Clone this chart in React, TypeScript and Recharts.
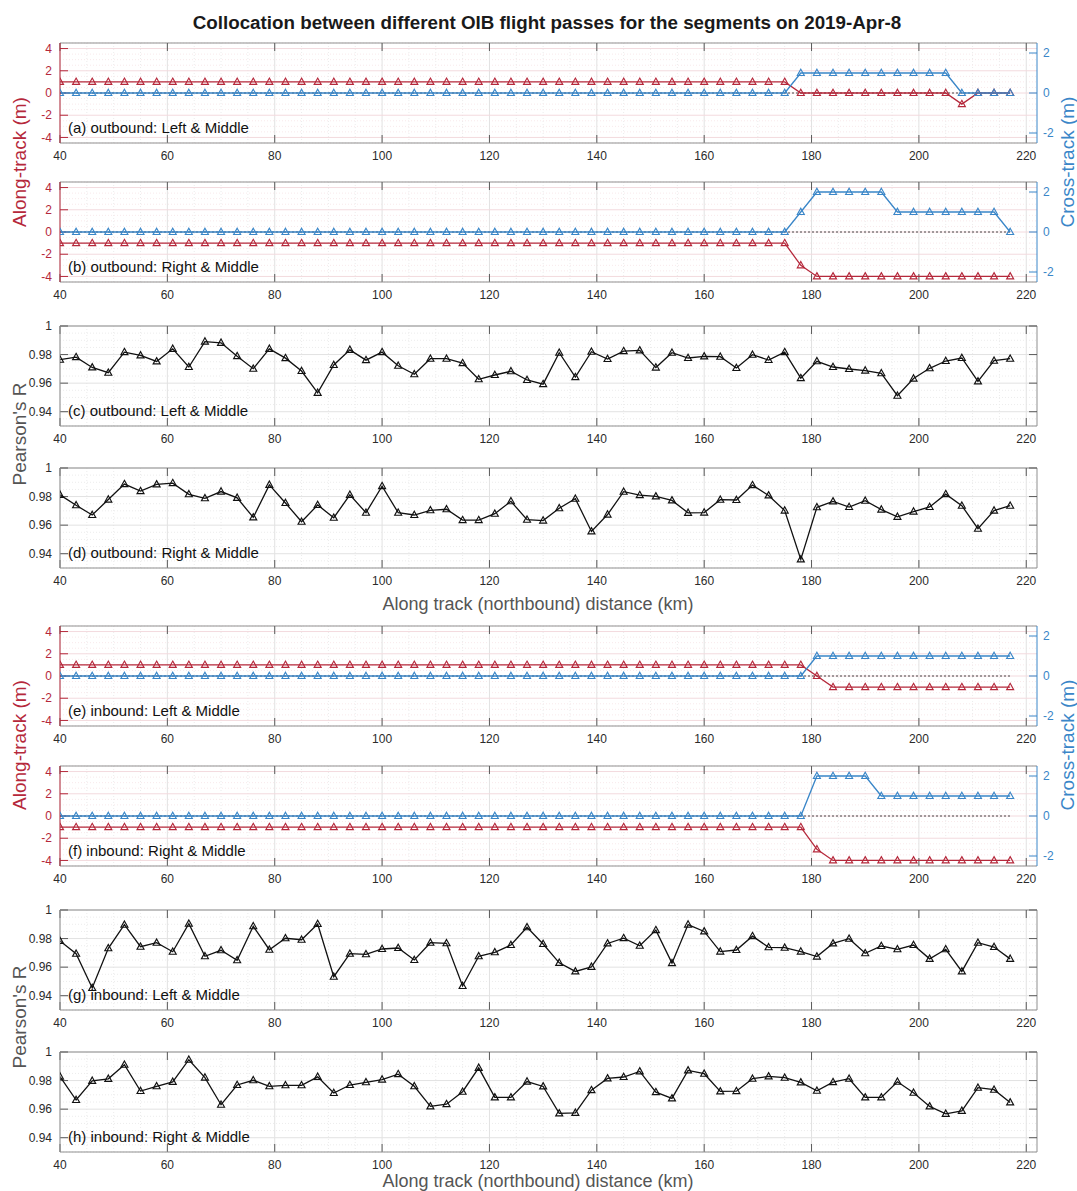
import React from 'react';
import { LineChart, Line, XAxis, YAxis, ReferenceLine } from 'recharts';

// ---------------- data ----------------
const distanceKm = [
  40, 43, 46, 49, 52, 55, 58, 61, 64, 67, 70, 73, 76, 79, 82, 85, 88, 91, 94, 97,
  100, 103, 106, 109, 112, 115, 118, 121, 124, 127, 130, 133, 136, 139, 142, 145, 148, 151, 154, 157,
  160, 163, 166, 169, 172, 175, 178, 181, 184, 187, 190, 193, 196, 199, 202, 205, 208, 211, 214, 217,
];
const xTickValues = [40, 60, 80, 100, 120, 140, 160, 180, 200, 220];
const alongTicks = [-4, -2, 0, 2, 4];
const crossTicks = [-2, 0, 2];
const pearsonTicks = [0.94, 0.96, 0.98, 1];

// (a) outbound Left & Middle
const outLeftAlong = [
  1, 1, 1, 1, 1, 1, 1, 1, 1, 1, 1, 1, 1, 1, 1, 1, 1, 1, 1, 1,
  1, 1, 1, 1, 1, 1, 1, 1, 1, 1, 1, 1, 1, 1, 1, 1, 1, 1, 1, 1,
  1, 1, 1, 1, 1, 1, 0, 0, 0, 0, 0, 0, 0, 0, 0, 0, -1, 0, 0, 0,
];
const outLeftCross = [
  0, 0, 0, 0, 0, 0, 0, 0, 0, 0, 0, 0, 0, 0, 0, 0, 0, 0, 0, 0,
  0, 0, 0, 0, 0, 0, 0, 0, 0, 0, 0, 0, 0, 0, 0, 0, 0, 0, 0, 0,
  0, 0, 0, 0, 0, 0, 1, 1, 1, 1, 1, 1, 1, 1, 1, 1, 0, 0, 0, 0,
];
// (b) outbound Right & Middle
const outRightAlong = [
  -1, -1, -1, -1, -1, -1, -1, -1, -1, -1, -1, -1, -1, -1, -1, -1, -1, -1, -1, -1,
  -1, -1, -1, -1, -1, -1, -1, -1, -1, -1, -1, -1, -1, -1, -1, -1, -1, -1, -1, -1,
  -1, -1, -1, -1, -1, -1, -3, -4, -4, -4, -4, -4, -4, -4, -4, -4, -4, -4, -4, -4,
];
const outRightCross = [
  0, 0, 0, 0, 0, 0, 0, 0, 0, 0, 0, 0, 0, 0, 0, 0, 0, 0, 0, 0,
  0, 0, 0, 0, 0, 0, 0, 0, 0, 0, 0, 0, 0, 0, 0, 0, 0, 0, 0, 0,
  0, 0, 0, 0, 0, 0, 1, 2, 2, 2, 2, 2, 1, 1, 1, 1, 1, 1, 1, 0,
];
// (c) outbound Left & Middle, Pearson's R
const outLeftR = [
  0.9764, 0.9782, 0.9710, 0.9673, 0.9817, 0.9794, 0.9752, 0.9840, 0.9713, 0.9891,
  0.9882, 0.9789, 0.9701, 0.9840, 0.9775, 0.9685, 0.9532, 0.9727, 0.9833, 0.9761,
  0.9817, 0.9722, 0.9662, 0.9771, 0.9771, 0.9740, 0.9627, 0.9657, 0.9683, 0.9622,
  0.9593, 0.9813, 0.9642, 0.9820, 0.9769, 0.9824, 0.9829, 0.9709, 0.9813, 0.9776,
  0.9787, 0.9785, 0.9706, 0.9799, 0.9762, 0.9817, 0.9635, 0.9753, 0.9713, 0.9699,
  0.9688, 0.9669, 0.9512, 0.9632, 0.9704, 0.9755, 0.9776, 0.9612, 0.9757, 0.9771,
];
// (d) outbound Right & Middle, Pearson's R
const outRightR = [
  0.9812, 0.9739, 0.9671, 0.9779, 0.9887, 0.9838, 0.9885, 0.9894, 0.9816, 0.9788,
  0.9835, 0.9791, 0.9654, 0.9882, 0.9755, 0.9624, 0.9741, 0.9652, 0.9812, 0.9687,
  0.9873, 0.9687, 0.9671, 0.9704, 0.9711, 0.9635, 0.9635, 0.9680, 0.9767, 0.9638,
  0.9632, 0.9718, 0.9785, 0.9556, 0.9674, 0.9834, 0.9810, 0.9801, 0.9773, 0.9686,
  0.9688, 0.9778, 0.9776, 0.9880, 0.9808, 0.9702, 0.9360, 0.9725, 0.9766, 0.9727,
  0.9771, 0.9709, 0.9658, 0.9695, 0.9727, 0.9817, 0.9736, 0.9575, 0.9702, 0.9736,
];
// (e) inbound Left & Middle
const inLeftAlong = [
  1, 1, 1, 1, 1, 1, 1, 1, 1, 1, 1, 1, 1, 1, 1, 1, 1, 1, 1, 1,
  1, 1, 1, 1, 1, 1, 1, 1, 1, 1, 1, 1, 1, 1, 1, 1, 1, 1, 1, 1,
  1, 1, 1, 1, 1, 1, 1, 0, -1, -1, -1, -1, -1, -1, -1, -1, -1, -1, -1, -1,
];
const inLeftCross = [
  0, 0, 0, 0, 0, 0, 0, 0, 0, 0, 0, 0, 0, 0, 0, 0, 0, 0, 0, 0,
  0, 0, 0, 0, 0, 0, 0, 0, 0, 0, 0, 0, 0, 0, 0, 0, 0, 0, 0, 0,
  0, 0, 0, 0, 0, 0, 0, 1, 1, 1, 1, 1, 1, 1, 1, 1, 1, 1, 1, 1,
];
// (f) inbound Right & Middle
const inRightAlong = [
  -1, -1, -1, -1, -1, -1, -1, -1, -1, -1, -1, -1, -1, -1, -1, -1, -1, -1, -1, -1,
  -1, -1, -1, -1, -1, -1, -1, -1, -1, -1, -1, -1, -1, -1, -1, -1, -1, -1, -1, -1,
  -1, -1, -1, -1, -1, -1, -1, -3, -4, -4, -4, -4, -4, -4, -4, -4, -4, -4, -4, -4,
];
const inRightCross = [
  0, 0, 0, 0, 0, 0, 0, 0, 0, 0, 0, 0, 0, 0, 0, 0, 0, 0, 0, 0,
  0, 0, 0, 0, 0, 0, 0, 0, 0, 0, 0, 0, 0, 0, 0, 0, 0, 0, 0, 0,
  0, 0, 0, 0, 0, 0, 0, 2, 2, 2, 2, 1, 1, 1, 1, 1, 1, 1, 1, 1,
];
// (g) inbound Left & Middle, Pearson's R
const inLeftR = [
  0.9783, 0.9694, 0.9454, 0.9732, 0.9897, 0.9743, 0.9771, 0.9708, 0.9904, 0.9676,
  0.9718, 0.9648, 0.9886, 0.9722, 0.9802, 0.9792, 0.9902, 0.9533, 0.9694, 0.9690,
  0.9727, 0.9734, 0.9650, 0.9771, 0.9767, 0.9468, 0.9676, 0.9704, 0.9755, 0.9879,
  0.9762, 0.9630, 0.9570, 0.9602, 0.9766, 0.9803, 0.9750, 0.9859, 0.9628, 0.9898,
  0.9850, 0.9709, 0.9720, 0.9817, 0.9739, 0.9736, 0.9709, 0.9674, 0.9766, 0.9799,
  0.9697, 0.9748, 0.9725, 0.9755, 0.9658, 0.9725, 0.9570, 0.9771, 0.9741, 0.9658,
];
// (h) inbound Right & Middle, Pearson's R
const inRightR = [
  0.9828, 0.9664, 0.9798, 0.9812, 0.9911, 0.9727, 0.9760, 0.9791, 0.9946, 0.9821,
  0.9631, 0.9769, 0.9802, 0.9760, 0.9767, 0.9767, 0.9826, 0.9713, 0.9769, 0.9788,
  0.9807, 0.9845, 0.9760, 0.9619, 0.9635, 0.9722, 0.9889, 0.9682, 0.9682, 0.9793,
  0.9759, 0.9570, 0.9574, 0.9733, 0.9815, 0.9825, 0.9864, 0.9719, 0.9675, 0.9871,
  0.9848, 0.9724, 0.9726, 0.9813, 0.9829, 0.9820, 0.9787, 0.9729, 0.9789, 0.9813,
  0.9682, 0.9682, 0.9792, 0.9715, 0.9619, 0.9567, 0.9588, 0.9750, 0.9736, 0.9647,
];

// ---------------- style / layout ----------------
const FONT = '"Liberation Sans", Arial, Helvetica, sans-serif';
const RED = '#b5283b';
const BLUE = '#3a86c8';
const BOX = '#8f8f8f';
const TICKMARK = '#5a5a5a';
const TXT = '#2b2b2b';
const LABEL = '#555555';
const W = 1077;
const H = 1191;
const PLOT_L = 60;
const PLOT_R = 1037;
const PANEL_H = 100;
const MT = 6;
const XH = 26;
const X_DOMAIN: [number, number] = [40, 222];
const ALONG_DOMAIN: [number, number] = [-4.5, 4.5];
const CROSS_DOMAIN: [number, number] = [-2.5, 2.5];
const R_DOMAIN: [number, number] = [0.93, 1];

function steps(a: number, b: number, s: number) {
  const out: number[] = [];
  for (let v = a; v <= b + 1e-9; v += s) out.push(+v.toFixed(4));
  return out;
}
const xMinor = steps(40, 222, 5).filter((v) => v % 20 !== 0);
const alongMinor = steps(-4.5, 4.5, 0.5).filter((v) => Math.abs(v % 2) > 1e-6);
const rMinor = steps(0.93, 1, 0.005).filter((v) => Math.abs(v * 50 - Math.round(v * 50)) > 1e-6);

const triDot = (color: string) => (p: any) => {
  const { cx, cy, index } = p;
  if (cx == null || cy == null) return <g key={`t${index}`} />;
  return (
    <path
      key={`t${index}`}
      d={`M${cx},${cy - 3.8}L${cx + 3.5},${cy + 2.5}L${cx - 3.5},${cy + 2.5}Z`}
      fill="none"
      stroke={color}
      strokeWidth={1.15}
    />
  );
};

type PanelProps = {
  top: number;
  kind: 'yy' | 'r';
  along?: number[];
  cross?: number[];
  r?: number[];
};

function Panel({ top, kind, along, cross, r }: PanelProps) {
  const yy = kind === 'yy';
  const data = distanceKm.map((x, i) =>
    yy ? { x, along: along![i], cross: cross![i] } : { x, r: r![i] }
  );
  const yDom = yy ? ALONG_DOMAIN : R_DOMAIN;
  const yMaj = yy ? alongTicks : pearsonTicks;
  const yMin = yy ? alongMinor : rMinor;
  const hMaj = yy ? '#f3dade' : '#e2e2e2';
  const hMin = yy ? '#f8e9eb' : '#ececec';
  const vMaj = '#e2e2e2';
  const vMin = '#ececec';
  const leftColor = yy ? RED : BOX;
  const tlx = (8 / (PLOT_R - PLOT_L)) * (X_DOMAIN[1] - X_DOMAIN[0]);
  const tly = (8 / PANEL_H) * (yDom[1] - yDom[0]);
  const tickStyle = { fontSize: 12, fontFamily: FONT };

  return (
    <div style={{ position: 'absolute', left: 0, top: top - MT }}>
      <LineChart
        width={W}
        height={MT + PANEL_H + XH}
        data={data}
        margin={{ top: MT, right: yy ? 0 : W - PLOT_R, bottom: 0, left: 0 }}
      >
        <XAxis
          dataKey="x"
          type="number"
          domain={X_DOMAIN}
          ticks={xTickValues}
          interval={0}
          allowDataOverflow
          height={XH}
          tickLine={false}
          axisLine={{ stroke: BOX }}
          tick={{ ...tickStyle, fill: TXT }}
        />
        <YAxis
          yAxisId="L"
          orientation="left"
          width={PLOT_L}
          domain={yDom}
          ticks={yMaj}
          interval={0}
          allowDataOverflow
          tickLine={false}
          axisLine={{ stroke: leftColor }}
          tick={{ ...tickStyle, fill: yy ? RED : TXT }}
          tickFormatter={(v: number) => (yy ? String(v) : v === 1 ? '1' : v.toFixed(2))}
        />
        {yy && (
          <YAxis
            yAxisId="R"
            orientation="right"
            width={W - PLOT_R}
            domain={CROSS_DOMAIN}
            ticks={crossTicks}
            interval={0}
            allowDataOverflow
            tickLine={false}
            tickSize={4}
            axisLine={{ stroke: BLUE }}
            tick={{ ...tickStyle, fill: BLUE }}
          />
        )}
        {xMinor.map((v) => (
          <ReferenceLine key={`vx${v}`} x={v} yAxisId="L" stroke={vMin} strokeDasharray="1 2" />
        ))}
        {yMin.map((v) => (
          <ReferenceLine key={`hy${v}`} y={v} yAxisId="L" stroke={hMin} strokeDasharray="1 2" />
        ))}
        {xTickValues.map((v) => (
          <ReferenceLine key={`VX${v}`} x={v} yAxisId="L" stroke={vMaj} />
        ))}
        {yMaj.map((v) => (
          <ReferenceLine key={`HY${v}`} y={v} yAxisId="L" stroke={hMaj} />
        ))}
        <ReferenceLine y={yDom[1]} yAxisId="L" stroke={BOX} />
        {!yy && <ReferenceLine x={X_DOMAIN[1]} yAxisId="L" stroke={BOX} />}
        {xTickValues.map((v) => (
          <ReferenceLine
            key={`tb${v}`}
            yAxisId="L"
            stroke={TICKMARK}
            segment={[{ x: v, y: yDom[0] }, { x: v, y: yDom[0] + tly }]}
          />
        ))}
        {xTickValues.map((v) => (
          <ReferenceLine
            key={`tt${v}`}
            yAxisId="L"
            stroke={TICKMARK}
            segment={[{ x: v, y: yDom[1] }, { x: v, y: yDom[1] - tly }]}
          />
        ))}
        {yMaj.map((v) => (
          <ReferenceLine
            key={`tl${v}`}
            yAxisId="L"
            stroke={yy ? RED : TICKMARK}
            segment={[{ x: X_DOMAIN[0], y: v }, { x: X_DOMAIN[0] + tlx, y: v }]}
          />
        ))}
        {!yy &&
          yMaj.map((v) => (
            <ReferenceLine
              key={`tr${v}`}
              yAxisId="L"
              stroke={TICKMARK}
              segment={[{ x: X_DOMAIN[1], y: v }, { x: X_DOMAIN[1] - tlx, y: v }]}
            />
          ))}
        {yy &&
          crossTicks.map((v) => (
            <ReferenceLine
              key={`trc${v}`}
              yAxisId="R"
              stroke={BLUE}
              segment={[{ x: X_DOMAIN[1], y: v }, { x: X_DOMAIN[1] - tlx, y: v }]}
            />
          ))}
        {yy && (
          <ReferenceLine
            yAxisId="L"
            stroke="#333"
            strokeWidth={0.9}
            strokeDasharray="2 2"
            segment={[{ x: 40, y: 0 }, { x: 217, y: 0 }]}
          />
        )}
        {yy ? (
          <Line
            yAxisId="L"
            dataKey="along"
            stroke={RED}
            strokeWidth={1.3}
            dot={triDot(RED)}
            activeDot={false}
            isAnimationActive={false}
          />
        ) : (
          <Line
            yAxisId="L"
            dataKey="r"
            stroke="#111"
            strokeWidth={1.3}
            dot={triDot('#111')}
            activeDot={false}
            isAnimationActive={false}
          />
        )}
        {yy && (
          <Line
            yAxisId="R"
            dataKey="cross"
            stroke={BLUE}
            strokeWidth={1.3}
            dot={triDot(BLUE)}
            activeDot={false}
            isAnimationActive={false}
          />
        )}
      </LineChart>
    </div>
  );
}

const panels: { id: string; top: number; kind: 'yy' | 'r'; label: string; along?: number[]; cross?: number[]; r?: number[] }[] = [
  { id: 'a', top: 43, kind: 'yy', label: '(a) outbound: Left & Middle', along: outLeftAlong, cross: outLeftCross },
  { id: 'b', top: 182, kind: 'yy', label: '(b) outbound: Right & Middle', along: outRightAlong, cross: outRightCross },
  { id: 'c', top: 326, kind: 'r', label: '(c) outbound: Left & Middle', r: outLeftR },
  { id: 'd', top: 468, kind: 'r', label: '(d) outbound: Right & Middle', r: outRightR },
  { id: 'e', top: 626, kind: 'yy', label: '(e) inbound: Left & Middle', along: inLeftAlong, cross: inLeftCross },
  { id: 'f', top: 766, kind: 'yy', label: '(f) inbound: Right & Middle', along: inRightAlong, cross: inRightCross },
  { id: 'g', top: 910, kind: 'r', label: '(g) inbound: Left & Middle', r: inLeftR },
  { id: 'h', top: 1052, kind: 'r', label: '(h) inbound: Right & Middle', r: inRightR },
];

export default function App() {
  return (
    <div
      style={{
        position: 'absolute',
        left: 0,
        top: 0,
        width: W,
        height: H,
        background: '#fff',
        fontFamily: FONT,
        overflow: 'hidden',
      }}
    >
      {panels.map((p) => (
        <Panel key={p.id} top={p.top} kind={p.kind} along={p.along} cross={p.cross} r={p.r} />
      ))}
      <svg
        width={W}
        height={H}
        style={{ position: 'absolute', left: 0, top: 0, pointerEvents: 'none' }}
        fontFamily={FONT}
      >
        <text x={547} y={29} textAnchor="middle" fontSize={18.8} fontWeight="bold" fill="#1a1a1a">
          Collocation between different OIB flight passes for the segments on 2019-Apr-8
        </text>
        {panels.map((p) => (
          <text key={`lab${p.id}`} x={68} y={p.top + PANEL_H - 10} fontSize={15} fill="#111">
            {p.label}
          </text>
        ))}
        <text x={26} y={162} transform="rotate(-90 26 162)" textAnchor="middle" fontSize={19} fill={RED}>
          Along-track (m)
        </text>
        <text x={1074} y={162} transform="rotate(-90 1074 162)" textAnchor="middle" fontSize={19} fill={BLUE}>
          Cross-track (m)
        </text>
        <text x={26} y={745} transform="rotate(-90 26 745)" textAnchor="middle" fontSize={19} fill={RED}>
          Along-track (m)
        </text>
        <text x={1074} y={745} transform="rotate(-90 1074 745)" textAnchor="middle" fontSize={19} fill={BLUE}>
          Cross-track (m)
        </text>
        <text x={26} y={434} transform="rotate(-90 26 434)" textAnchor="middle" fontSize={19} fill={LABEL}>
          Pearson's R
        </text>
        <text x={26} y={1017} transform="rotate(-90 26 1017)" textAnchor="middle" fontSize={19} fill={LABEL}>
          Pearson's R
        </text>
        <text x={538} y={610} textAnchor="middle" fontSize={18} fill={LABEL}>
          Along track (northbound) distance (km)
        </text>
        <text x={538} y={1187} textAnchor="middle" fontSize={18} fill={LABEL}>
          Along track (northbound) distance (km)
        </text>
      </svg>
    </div>
  );
}
